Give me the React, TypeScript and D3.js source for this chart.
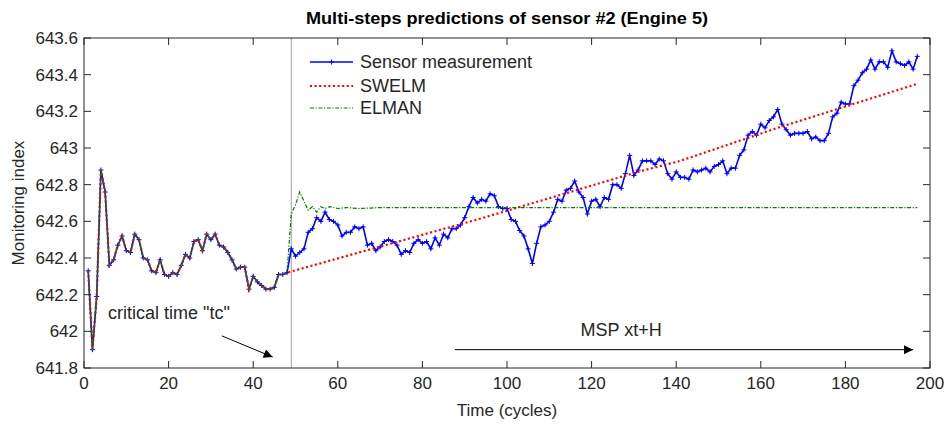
import React, { useEffect, useRef } from 'react';
import * as d3 from 'd3';

// sensor #2 measurements, one per cycle starting at cycle 1
const sensor: number[] = [
  642.33, 641.90, 642.19, 642.88, 642.76, 642.36, 642.39, 642.47, 642.52, 642.44,
  642.43, 642.53, 642.50, 642.40, 642.39, 642.33, 642.32, 642.39, 642.31, 642.30,
  642.32, 642.31, 642.36, 642.42, 642.40, 642.49, 642.50, 642.44, 642.53, 642.50,
  642.53, 642.47, 642.46, 642.43, 642.39, 642.34, 642.35, 642.35, 642.23, 642.30,
  642.27, 642.25, 642.23, 642.23, 642.24, 642.31, 642.31, 642.32, 642.45, 642.41,
  642.43, 642.45, 642.54, 642.56, 642.62, 642.60, 642.65, 642.61, 642.60, 642.58,
  642.52, 642.54, 642.54, 642.57, 642.56, 642.57, 642.47, 642.48, 642.44, 642.46,
  642.49, 642.50, 642.49, 642.47, 642.42, 642.44, 642.43, 642.48, 642.50, 642.48,
  642.49, 642.45, 642.51, 642.47, 642.53, 642.51, 642.56, 642.56, 642.58, 642.62,
  642.68, 642.73, 642.70, 642.72, 642.71, 642.75, 642.74, 642.68, 642.67, 642.67,
  642.61, 642.60, 642.55, 642.52, 642.45, 642.37, 642.48, 642.57, 642.58, 642.60,
  642.65, 642.72, 642.71, 642.77, 642.78, 642.82, 642.76, 642.73, 642.64, 642.71,
  642.72, 642.68, 642.73, 642.72, 642.80, 642.80, 642.78, 642.86, 642.96, 642.85,
  642.88, 642.93, 642.93, 642.93, 642.91, 642.94, 642.93, 642.86, 642.83, 642.87,
  642.84, 642.84, 642.83, 642.88, 642.87, 642.88, 642.89, 642.87, 642.90, 642.91,
  642.93, 642.86, 642.89, 642.89, 642.96, 642.99, 643.07, 643.09, 643.07, 643.13,
  643.11, 643.15, 643.17, 643.21, 643.13, 643.10, 643.07, 643.08, 643.08, 643.08,
  643.09, 643.05, 643.06, 643.04, 643.04, 643.08, 643.17, 643.19, 643.25, 643.24,
  643.24, 643.34, 643.37, 643.41, 643.43, 643.48, 643.43, 643.47, 643.47, 643.44,
  643.53, 643.47, 643.46, 643.45, 643.47, 643.43, 643.50,
];

const tc = 49; // critical time

// predictions after tc (cycle, value)
const swelmCycles = [48, 65, 93, 131, 141, 164, 197];
const swelmValues = [642.32, 642.43, 642.61, 642.87, 642.93, 643.11, 643.35];

const elmanCycles = [48, 49, 50, 51, 52, 53, 54, 55, 56, 57, 58, 60, 62, 65, 70, 197];
const elmanValues = [642.32, 642.64, 642.69, 642.76, 642.71, 642.66, 642.68, 642.65, 642.68, 642.67, 642.68, 642.67, 642.675, 642.67, 642.675, 642.675];

const xTicks = [0, 20, 40, 60, 80, 100, 120, 140, 160, 180, 200];
const yTicks = [641.8, 642, 642.2, 642.4, 642.6, 642.8, 643, 643.2, 643.4, 643.6];

const W = 947;
const H = 425;
const FONT = '"Liberation Sans", Arial, sans-serif';

const App: React.FC = () => {
  const svgRef = useRef<SVGSVGElement | null>(null);

  useEffect(() => {
    const margin = { top: 38, right: 17, bottom: 57, left: 84 };
    const svg = d3.select(svgRef.current).attr('width', W).attr('height', H);
    svg.selectAll('*').remove();

    const x = d3.scaleLinear().domain([0, 200]).range([margin.left, W - margin.right]);
    const y = d3.scaleLinear().domain([641.8, 643.6]).range([H - margin.bottom, margin.top]);

    // measurement points and history shared by predictors before tc
    const meas: [number, number][] = sensor.map((v, i) => [i + 1, v]);
    const history = meas.filter(d => d[0] < 48);
    const swelm: [number, number][] = history.concat(swelmCycles.map((c, i) => [c, swelmValues[i]] as [number, number]));
    const elman: [number, number][] = history.concat(elmanCycles.map((c, i) => [c, elmanValues[i]] as [number, number]));

    const line = d3.line<[number, number]>().x(d => x(d[0])).y(d => y(d[1]));

    svg.append('rect')
      .attr('x', 0).attr('y', 0).attr('width', W).attr('height', H).attr('fill', '#fff');

    // critical time line
    svg.append('line')
      .attr('x1', x(tc)).attr('x2', x(tc))
      .attr('y1', y(641.8)).attr('y2', y(643.6))
      .attr('stroke', '#a0a0a0').attr('stroke-width', 1);

    // sensor measurement
    svg.append('path').datum(meas)
      .attr('d', line).attr('fill', 'none')
      .attr('stroke', '#0000ff').attr('stroke-width', 1.6);

    svg.append('g').selectAll('path')
      .data(meas).enter().append('path')
      .attr('d', d => `M${x(d[0]) - 2.5},${y(d[1])}h5M${x(d[0])},${y(d[1]) - 2.5}v5`)
      .attr('stroke', '#0000ff').attr('stroke-width', 1);

    // SWELM
    svg.append('path').datum(swelm)
      .attr('d', line).attr('fill', 'none')
      .attr('stroke', '#ff0000').attr('stroke-width', 2.2)
      .attr('stroke-dasharray', '2 2.6');

    // ELMAN
    svg.append('path').datum(elman)
      .attr('d', line).attr('fill', 'none')
      .attr('stroke', '#008000').attr('stroke-width', 1.2)
      .attr('stroke-dasharray', '4 1.6 1.2 1.6');

    // frame and ticks
    const x0 = margin.left, x1 = W - margin.right, y0 = margin.top, y1 = H - margin.bottom;
    const axisColor = '#262626';
    const g = svg.append('g').attr('stroke', axisColor).attr('stroke-width', 1);
    g.append('rect')
      .attr('x', x0).attr('y', y0).attr('width', x1 - x0).attr('height', y1 - y0)
      .attr('fill', 'none');
    xTicks.forEach(t => {
      g.append('line').attr('x1', x(t)).attr('x2', x(t)).attr('y1', y1).attr('y2', y1 - 7);
      g.append('line').attr('x1', x(t)).attr('x2', x(t)).attr('y1', y0).attr('y2', y0 + 7);
    });
    yTicks.forEach(t => {
      g.append('line').attr('x1', x0).attr('x2', x0 + 7).attr('y1', y(t)).attr('y2', y(t));
      g.append('line').attr('x1', x1).attr('x2', x1 - 7).attr('y1', y(t)).attr('y2', y(t));
    });

    const txt = svg.append('g').attr('font-family', FONT).attr('fill', axisColor);
    xTicks.forEach(t => {
      txt.append('text').attr('x', x(t)).attr('y', y1 + 21)
        .attr('text-anchor', 'middle').attr('font-size', 17).text(String(t));
    });
    yTicks.forEach(t => {
      txt.append('text').attr('x', x0 - 6).attr('y', y(t) + 6)
        .attr('text-anchor', 'end').attr('font-size', 17).text(d3.format('~f')(t));
    });

    txt.append('text').attr('x', (x0 + x1) / 2).attr('y', y1 + 48)
      .attr('text-anchor', 'middle').attr('font-size', 17).text('Time (cycles)');
    txt.append('text')
      .attr('transform', `translate(24, ${(y0 + y1) / 2}) rotate(-90)`)
      .attr('text-anchor', 'middle').attr('font-size', 17).text('Monitoring index');
    txt.append('text').attr('x', (x0 + x1) / 2).attr('y', 24)
      .attr('text-anchor', 'middle').attr('font-size', 16).attr('font-weight', 'bold')
      .attr('fill', '#000')
      .attr('textLength', 402).attr('lengthAdjust', 'spacingAndGlyphs')
      .text('Multi-steps predictions of sensor #2 (Engine 5)');

    // legend
    const lg = svg.append('g');
    const lx = 310, lw = 43;
    const rows = [62, 86, 108];
    lg.append('line').attr('x1', lx).attr('x2', lx + lw).attr('y1', rows[0]).attr('y2', rows[0])
      .attr('stroke', '#0000ff').attr('stroke-width', 1.5);
    lg.append('path').attr('d', `M${lx + lw / 2 - 2.5},${rows[0]}h5M${lx + lw / 2},${rows[0] - 2.5}v5`)
      .attr('stroke', '#0000ff');
    lg.append('line').attr('x1', lx).attr('x2', lx + lw).attr('y1', rows[1]).attr('y2', rows[1])
      .attr('stroke', '#ff0000').attr('stroke-width', 2).attr('stroke-dasharray', '2 2.6');
    lg.append('line').attr('x1', lx).attr('x2', lx + lw).attr('y1', rows[2]).attr('y2', rows[2])
      .attr('stroke', '#008000').attr('stroke-width', 1.2).attr('stroke-dasharray', '4 1.6 1.2 1.6');
    ['Sensor measurement', 'SWELM', 'ELMAN'].forEach((s, i) => {
      lg.append('text').attr('x', lx + lw + 7).attr('y', rows[i] + 6)
        .attr('font-family', FONT).attr('font-size', 18).attr('fill', axisColor).text(s);
    });

    // annotations
    const defs = svg.append('defs');
    defs.append('marker').attr('id', 'arr').attr('viewBox', '0 0 10 10')
      .attr('refX', 10).attr('refY', 5).attr('markerWidth', 12).attr('markerHeight', 9)
      .attr('markerUnits', 'userSpaceOnUse').attr('orient', 'auto')
      .append('path').attr('d', 'M0,0L10,5L0,10Z').attr('fill', '#000');

    svg.append('text').attr('x', x(5.7)).attr('y', y(642.065))
      .attr('font-family', FONT).attr('font-size', 18).attr('fill', axisColor)
      .text('critical time "tc"');
    svg.append('line')
      .attr('x1', x(32.6)).attr('y1', y(641.975)).attr('x2', x(44.6)).attr('y2', y(641.86))
      .attr('stroke', '#000').attr('stroke-width', 1).attr('marker-end', 'url(#arr)');

    svg.append('text').attr('x', x(127)).attr('y', y(641.975))
      .attr('text-anchor', 'middle')
      .attr('font-family', FONT).attr('font-size', 18).attr('fill', axisColor)
      .text('MSP xt+H');
    svg.append('line')
      .attr('x1', x(87.7)).attr('y1', y(641.9)).attr('x2', x(196)).attr('y2', y(641.9))
      .attr('stroke', '#000').attr('stroke-width', 1).attr('marker-end', 'url(#arr)');
  }, []);

  return (
    <svg ref={svgRef} style={{ position: 'absolute', left: 0, top: 0 }} width={W} height={H}></svg>
  );
};

export default App;
